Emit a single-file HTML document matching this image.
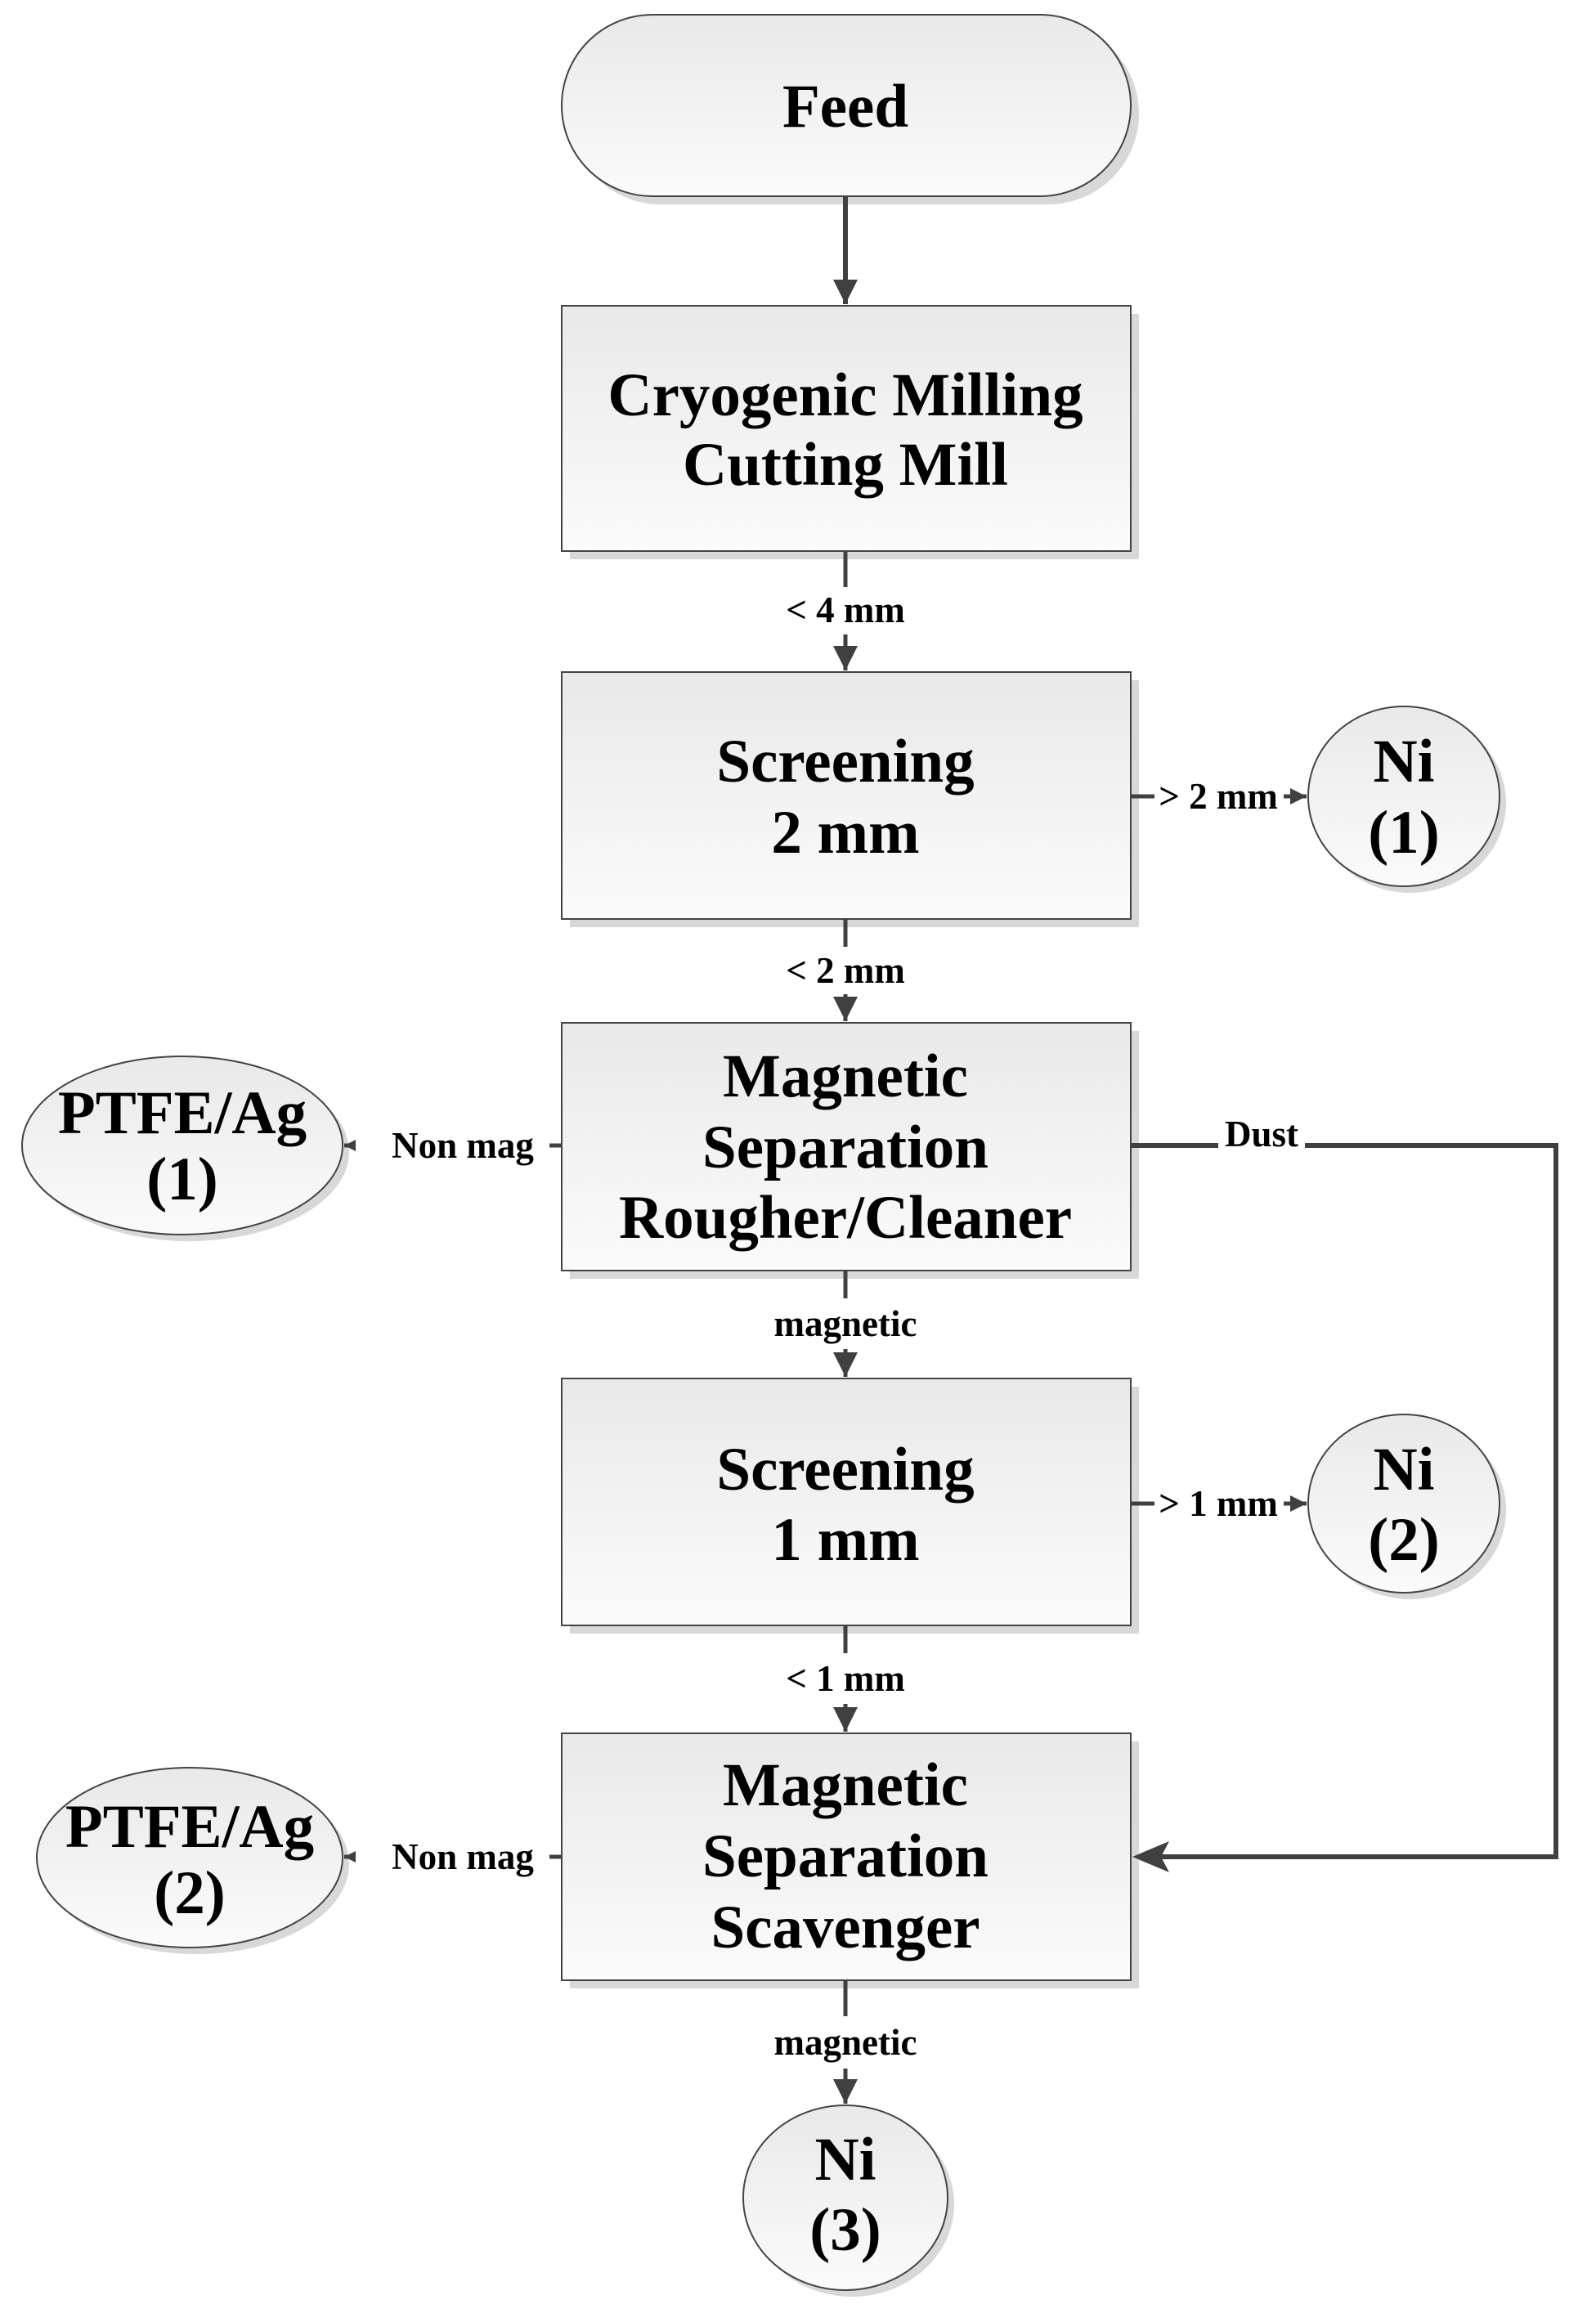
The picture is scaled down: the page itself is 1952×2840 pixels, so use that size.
<!DOCTYPE html>
<html><head><meta charset="utf-8"><style>
html,body{margin:0;padding:0;background:#fff;}
svg{display:block;}
text{font-family:"Liberation Serif",serif;font-weight:bold;fill:#000;text-anchor:middle;}
.b{font-size:75px;}
.l{font-size:45px;}
</style></head><body>
<svg width="1952" height="2840" viewBox="0 0 1952 2840" xmlns="http://www.w3.org/2000/svg">
<defs>
<linearGradient id="g" x1="0" y1="0" x2="0" y2="1"><stop offset="0" stop-color="#e9e9e9"/><stop offset="1" stop-color="#fbfbfb"/></linearGradient>
<marker id="a" markerWidth="30" markerHeight="30" refX="10" refY="5" orient="auto" markerUnits="userSpaceOnUse" viewBox="0 0 10 10"><path d="M0,0 L10,5 L0,10 z" fill="#404040"/></marker>
<marker id="s" markerWidth="20" markerHeight="20" refX="10" refY="5" orient="auto" markerUnits="userSpaceOnUse" viewBox="0 0 10 10"><path d="M0,0 L10,5 L0,10 z" fill="#404040"/></marker>
<marker id="t" markerWidth="14" markerHeight="14" refX="10" refY="5" orient="auto" markerUnits="userSpaceOnUse" viewBox="0 0 10 10"><path d="M0,0 L10,5 L0,10 z" fill="#404040"/></marker>
</defs>
<g fill="#d8d8d8">
<rect x="697" y="28" width="696" height="222" rx="111"/>
<rect x="697" y="384" width="696" height="300"/>
<rect x="697" y="832" width="696" height="302"/>
<rect x="697" y="1261" width="696" height="303"/>
<rect x="697" y="1696" width="696" height="302"/>
<rect x="697" y="2130" width="696" height="302"/>
<ellipse cx="1725" cy="982" rx="117" ry="110"/>
<ellipse cx="1725" cy="1847" rx="117" ry="109"/>
<ellipse cx="231" cy="1409" rx="196" ry="109"/>
<ellipse cx="240" cy="2280" rx="187" ry="110"/>
<ellipse cx="1042" cy="2696" rx="125" ry="113"/>
</g>
<g fill="url(#g)" stroke="#444" stroke-width="2">
<rect x="687" y="18" width="696" height="222" rx="111"/>
<rect x="687" y="374" width="696" height="300"/>
<rect x="687" y="822" width="696" height="302"/>
<rect x="687" y="1251" width="696" height="303"/>
<rect x="687" y="1686" width="696" height="302"/>
<rect x="687" y="2120" width="696" height="302"/>
<ellipse cx="1717" cy="974" rx="117" ry="110"/>
<ellipse cx="1717" cy="1839" rx="117" ry="109"/>
<ellipse cx="223" cy="1401" rx="196" ry="109"/>
<ellipse cx="232" cy="2272" rx="187" ry="110"/>
<ellipse cx="1034" cy="2688" rx="125" ry="113"/>
</g>
<g stroke="#404040" stroke-width="5" fill="none">
<line x1="1034" y1="240" x2="1034" y2="372" marker-end="url(#a)" stroke-width="6"/>
<line x1="1034" y1="674" x2="1034" y2="718"/>
<line x1="1034" y1="776" x2="1034" y2="820" marker-end="url(#a)"/>
<line x1="1034" y1="1124" x2="1034" y2="1158"/>
<line x1="1034" y1="1216" x2="1034" y2="1249" marker-end="url(#a)"/>
<line x1="1034" y1="1554" x2="1034" y2="1588"/>
<line x1="1034" y1="1650" x2="1034" y2="1684" marker-end="url(#a)"/>
<line x1="1034" y1="1988" x2="1034" y2="2022"/>
<line x1="1034" y1="2084" x2="1034" y2="2118" marker-end="url(#a)"/>
<line x1="1034" y1="2422" x2="1034" y2="2466"/>
<line x1="1034" y1="2530" x2="1034" y2="2573" marker-end="url(#a)"/>
<line x1="1383" y1="974" x2="1412" y2="974"/>
<line x1="1570" y1="974" x2="1598" y2="974" marker-end="url(#s)"/>
<line x1="1383" y1="1839" x2="1412" y2="1839"/>
<line x1="1570" y1="1839" x2="1598" y2="1839" marker-end="url(#s)"/>
<line x1="687" y1="1401" x2="672" y2="1401"/>
<line x1="432" y1="1401" x2="421" y2="1401" marker-end="url(#t)"/>
<line x1="687" y1="2271" x2="672" y2="2271"/>
<line x1="432" y1="2271" x2="421" y2="2271" marker-end="url(#t)"/>
<polyline points="1383,1401 1490,1401" stroke-width="6"/>
<polyline points="1596,1401 1903,1401 1903,2271 1420,2271" stroke-width="6"/>
</g>
<path d="M1385,2271 L1430,2252 L1420,2271 L1430,2290 z" fill="#404040"/>
<text class="b" x="1034" y="155">Feed</text>
<text class="b" x="1034" y="508">Cryogenic Milling</text>
<text class="b" x="1034" y="593">Cutting Mill</text>
<text class="b" x="1034" y="956">Screening</text>
<text class="b" x="1034" y="1043">2 mm</text>
<text class="b" x="1034" y="1341">Magnetic</text>
<text class="b" x="1034" y="1428">Separation</text>
<text class="b" x="1034" y="1514">Rougher/Cleaner</text>
<text class="b" x="1034" y="1822">Screening</text>
<text class="b" x="1034" y="1908">1 mm</text>
<text class="b" x="1034" y="2208">Magnetic</text>
<text class="b" x="1034" y="2295">Separation</text>
<text class="b" x="1034" y="2382">Scavenger</text>
<text class="b" x="1717" y="956">Ni</text>
<text class="b" x="1717" y="1043">(1)</text>
<text class="b" x="1717" y="1822">Ni</text>
<text class="b" x="1717" y="1908">(2)</text>
<text class="b" x="1034" y="2666">Ni</text>
<text class="b" x="1034" y="2752">(3)</text>
<text class="b" x="223" y="1386">PTFE/Ag</text>
<text class="b" x="223" y="1467">(1)</text>
<text class="b" x="232" y="2259">PTFE/Ag</text>
<text class="b" x="232" y="2340">(2)</text>
<text class="l" x="1034" y="761">&lt; 4 mm</text>
<text class="l" x="1034" y="1202">&lt; 2 mm</text>
<text class="l" x="1034" y="1634">magnetic</text>
<text class="l" x="1034" y="2068">&lt; 1 mm</text>
<text class="l" x="1034" y="2513">magnetic</text>
<text class="l" x="1490" y="989">&gt; 2 mm</text>
<text class="l" x="1490" y="1854">&gt; 1 mm</text>
<text class="l" x="566" y="1416">Non mag</text>
<text class="l" x="566" y="2286">Non mag</text>
<text class="l" x="1543" y="1402">Dust</text>
</svg>
</body></html>
